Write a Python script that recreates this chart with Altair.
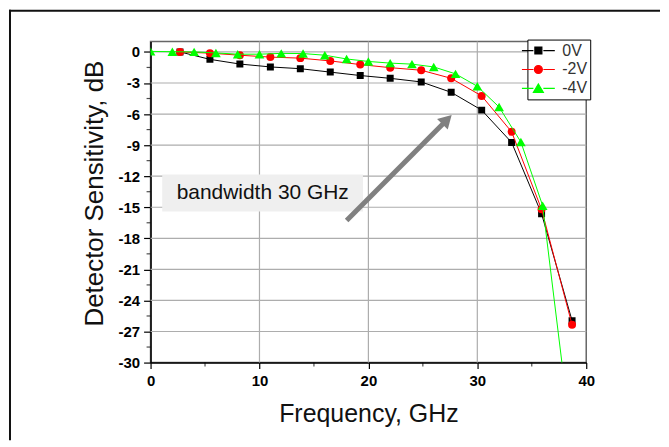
import altair as alt
import pandas as pd

# ---------------- data ----------------
series_names = ["0V", "-2V", "-4V"]
series_colors = ["#000000", "#ff0000", "#00ff00"]

freq_0v = [2.7, 5.45, 8.2, 11.0, 13.75, 16.5, 19.25, 22.0, 24.85, 27.6, 30.4, 33.15, 35.9, 38.7]
sens_0v = [0.0, -0.72, -1.17, -1.45, -1.62, -1.95, -2.28, -2.55, -2.9, -3.9, -5.62, -8.74, -15.63, -25.95]

freq_2v = [2.7, 5.45, 8.2, 11.0, 13.75, 16.5, 19.25, 22.0, 24.85, 27.6, 30.4, 33.15, 35.9, 38.7]
sens_2v = [0.0, -0.12, -0.32, -0.5, -0.6, -0.87, -1.22, -1.52, -1.77, -2.55, -4.25, -7.72, -15.2, -26.35]

freq_4v = [0, 2, 4, 6, 8, 10, 12, 14, 16, 18, 20, 22, 24, 26, 28, 30, 32, 34, 36, 38]
sens_4v = [0.05, 0.02, 0.0, -0.1, -0.22, -0.22, -0.14, -0.16, -0.32, -0.68, -0.92, -1.08, -1.18,
           -1.45, -2.12, -3.32, -5.32, -8.7, -14.85, -32.0]

x_major_ticks = [0, 10, 20, 30, 40]
x_minor_ticks = [5, 15, 25, 35]
y_major_ticks = [-30, -27, -24, -21, -18, -15, -12, -9, -6, -3, 0]
y_minor_ticks = [-28.5, -25.5, -22.5, -19.5, -16.5, -13.5, -10.5, -7.5, -4.5, -1.5]
x_domain = [0, 40]
y_domain = [-30, 1]

x_title = "Frequency, GHz"
y_title = "Detector Sensitivity, dB"

note_text = ["bandwidth 30 GHz"]
note_box_x = [1.07, 19.5]
note_box_y = [-11.83, -15.4]
note_text_xy = [10.3, -14.25]
arrow_start = [18.0, -16.27]
arrow_head = [27.22, -6.54]

# ---------------- tables ----------------
df0 = pd.DataFrame({"freq": freq_0v, "sens": sens_0v, "series": series_names[0]})
df2 = pd.DataFrame({"freq": freq_2v, "sens": sens_2v, "series": series_names[1]})
df4 = pd.DataFrame({"freq": freq_4v, "sens": sens_4v, "series": series_names[2]})
all_df = pd.concat([df0, df2, df4], ignore_index=True)

note_df = pd.DataFrame({"x": [note_box_x[0]], "x2": [note_box_x[1]],
                        "y": [note_box_y[0]], "y2": [note_box_y[1]],
                        "tx": [note_text_xy[0]], "ty": [note_text_xy[1]],
                        "text": note_text})
arrow_df = pd.DataFrame({"x": [arrow_start[0]], "y": [arrow_start[1]],
                         "x2": [arrow_head[0]], "y2": [arrow_head[1]]})
xminor_df = pd.DataFrame({"freq": x_minor_ticks})
yminor_df = pd.DataFrame({"sens": y_minor_ticks})
xgrid_df = pd.DataFrame({"gx": x_major_ticks[1:-1], "gy0": [y_domain[0]] * 3, "gy1": [y_domain[1]] * 3})
ygrid_df = pd.DataFrame({"gy": y_major_ticks[1:], "gx0": [x_domain[0]] * 10, "gx1": [x_domain[1]] * 10})

xs = alt.Scale(domain=x_domain, nice=False, zero=False)
ys = alt.Scale(domain=y_domain, nice=False, zero=False)

LABEL_FONT = "Liberation Sans"

x_axis = alt.Axis(
    values=x_major_ticks,
    labelExpr="'' + datum.value",
    tickSize=6, grid=False,
    domainColor="#000000", domainWidth=1.5, tickColor="#000000", tickWidth=1.2,
    labelFont=LABEL_FONT, labelFontSize=15, labelFontWeight="bold", labelColor="#000000",
    labelPadding=5, labelFlush=False, labelOverlap=False,
    titleFont=LABEL_FONT, titleFontSize=25, titleFontWeight="normal",
    titleColor="#111111", titlePadding=13,
)
y_axis = alt.Axis(
    values=y_major_ticks,
    labelExpr="'' + datum.value",
    tickSize=7, grid=False,
    domainColor="#000000", domainWidth=1.5, tickColor="#000000", tickWidth=1.2,
    labelFont=LABEL_FONT, labelFontSize=15, labelFontWeight="bold", labelColor="#000000",
    labelPadding=4, labelFlush=False, labelOverlap=False,
    titleFont=LABEL_FONT, titleFontSize=26, titleFontWeight="normal",
    titleColor="#111111", titlePadding=11, titleY=152,
)


def enc_x(field="freq"):
    return alt.X(f"{field}:Q", scale=xs, axis=x_axis, title=x_title)


def enc_y(field="sens"):
    return alt.Y(f"{field}:Q", scale=ys, axis=y_axis, title=y_title)


# grid lines at the major ticks, drawn as rules through both scales
x_grid = alt.Chart(xgrid_df).mark_rule(color="#adadad", strokeWidth=1.2).encode(
    x=enc_x("gx"), y=enc_y("gy0"), y2="gy1:Q")
y_grid = alt.Chart(ygrid_df).mark_rule(color="#adadad", strokeWidth=1.2).encode(
    y=enc_y("gy"), x=enc_x("gx0"), x2="gx1:Q")

# minor ticks (outward, shorter than the major ones)
x_minor = alt.Chart(xminor_df).mark_tick(
    color="#000000", thickness=1.2, size=4, orient="vertical"
).encode(x=enc_x(), y=alt.value(324))
y_minor = alt.Chart(yminor_df).mark_tick(
    color="#000000", thickness=1.2, size=4, orient="horizontal"
).encode(y=enc_y(), x=alt.value(-2))

# annotation box + text
note_box = alt.Chart(note_df).mark_rect(fill="#efefef").encode(
    x=enc_x("x"), x2="x2:Q", y=enc_y("y"), y2="y2:Q")
note_label = alt.Chart(note_df).mark_text(
    font=LABEL_FONT, fontSize=21, color="#111111", align="center", baseline="alphabetic"
).encode(x=enc_x("tx"), y=enc_y("ty"), text="text:N")

shapes = ["square", "circle", "triangle-up"]
sizes = [49, 64, 95]
series_layers = []
for df, col, shp, sz in zip([df0, df2, df4], series_colors, shapes, sizes):
    series_layers.append(
        alt.Chart(df).mark_line(color=col, strokeWidth=1, clip=True).encode(
            x=enc_x(), y=enc_y(), order="freq:Q"))
    series_layers.append(
        alt.Chart(df).mark_point(filled=True, shape=shp, size=sz, color=col, opacity=1,
                                 strokeWidth=0, clip=True).encode(x=enc_x(), y=enc_y()))

# arrow
arrow_line = alt.Chart(arrow_df).mark_rule(color="#808080", strokeWidth=5).encode(
    x=enc_x("x"), y=enc_y("y"), x2="x2:Q", y2="y2:Q")
arrow_tip = alt.Chart(arrow_df).mark_point(
    shape="triangle-up", angle=45, size=230, filled=True, color="#808080", opacity=1, strokeWidth=0
).encode(x=enc_x("x2"), y=enc_y("y2"))

# legend (line-symbol-line entries), carried by an invisible layer
legend_paths = [
    "M-3.3,0L-1.0,0M1.0,0L3.3,0M-0.7,-0.7L0.7,-0.7L0.7,0.7L-0.7,0.7Z",
    "M-3.3,0L-1.0,0M1.0,0L3.3,0M-0.8,0A0.8,0.8,0,1,0,0.8,0A0.8,0.8,0,1,0,-0.8,0Z",
    "M-3.3,0L-1.0,0M1.0,0L3.3,0M0,-0.9L1.0,0.8L-1.0,0.8Z",
]
leg = alt.Legend(
    orient="none", legendX=378, legendY=-2, title=None,
    fillColor="#ffffff", strokeColor="#000000", padding=3, cornerRadius=0,
    symbolSize=100, symbolStrokeWidth=1.2, symbolOpacity=1, symbolOffset=0,
    labelOffset=16, labelFontSize=16, labelColor="#333333",
    labelFont="Liberation Sans Narrow, Arial Narrow, Liberation Sans",
    labelExpr="datum.label == '0V' ? '\u00a0' + datum.label : datum.label",
    rowPadding=3,
)
legend_layer = alt.Chart(all_df).mark_point(filled=True, opacity=0).encode(
    x=enc_x(), y=enc_y(),
    fill=alt.Fill("series:N", scale=alt.Scale(domain=series_names, range=series_colors), legend=leg),
    stroke=alt.Stroke("series:N", scale=alt.Scale(domain=series_names, range=series_colors), legend=leg),
    shape=alt.Shape("series:N", scale=alt.Scale(domain=series_names, range=legend_paths), legend=leg),
)

# outer frame lines (top and left edges of the picture)
frame_top = alt.Chart(note_df).mark_rule(color="#111111", strokeWidth=2).encode(
    x=alt.value(-142), x2=alt.value(511), y=alt.value(-31))
frame_left = alt.Chart(note_df).mark_rule(color="#111111", strokeWidth=2).encode(
    x=alt.value(-141), y=alt.value(-32), y2=alt.value(400))

chart = alt.layer(
    x_grid, y_grid, x_minor, y_minor, note_box, note_label, *series_layers, arrow_line, arrow_tip,
    legend_layer, frame_top, frame_left
).properties(
    width=437, height=322,
    padding=0,
    background="white",
).configure_view(
    stroke="#666666", strokeWidth=1.5
)

chart.save("out.html", embed_options={"renderer": "svg", "actions": False})
